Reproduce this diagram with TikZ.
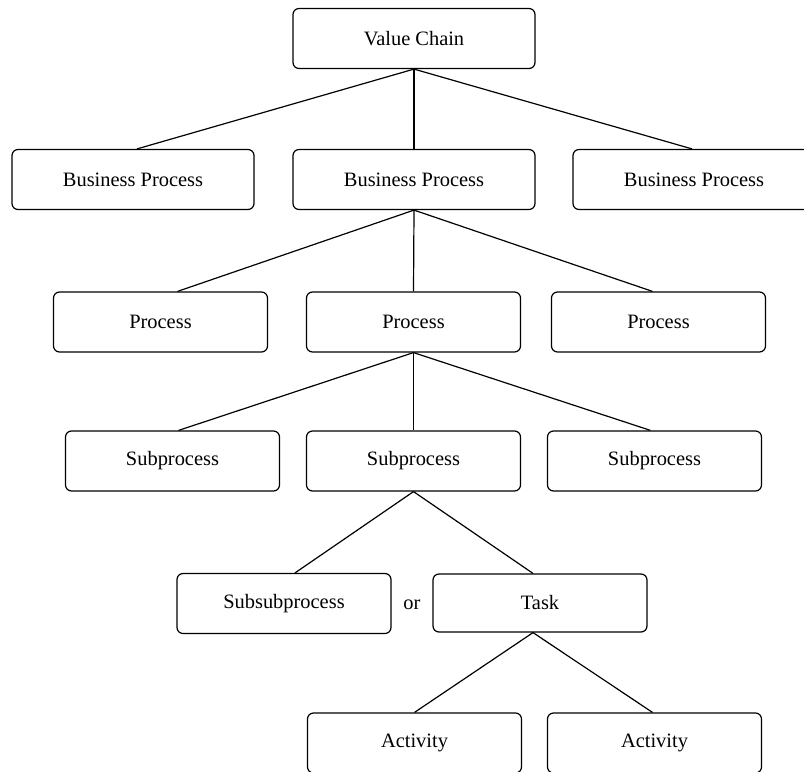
\documentclass[tikz,border=0pt]{standalone}
\usepackage{fontspec}
\setmainfont{Liberation Serif}
\begin{document}
\begin{tikzpicture}[x=1bp,y=-1bp,
  box/.style={draw, line width=1.2bp, rounded corners=6bp, inner sep=0pt,
    minimum height=60bp, font=\fontsize{20.5}{24}\selectfont},
  wide/.style={box, minimum width=242bp},
  narrow/.style={box, minimum width=214bp},
  link/.style={line width=1.2bp}]
\useasboundingbox (0,0) rectangle (804,772);

% level 0
\node[wide] (vc) at (414,38.5) {Value Chain};
% level 1
\node[wide] (bp1) at (133,179.5) {Business Process};
\node[wide] (bp2) at (414,179.5) {Business Process};
\node[wide] (bp3) at (694,179.5) {Business Process};
% level 2
\node[narrow] (p1) at (160.5,322) {Process};
\node[narrow] (p2) at (413.5,322) {Process};
\node[narrow] (p3) at (658.5,322) {Process};
% level 3
\node[narrow] (s1) at (172.5,461) {Subprocess};
\node[narrow] (s2) at (413.5,461) {Subprocess};
\node[narrow] (s3) at (654.5,461) {Subprocess};
% level 4
\node[narrow] (ss) at (284,603.5) {Subsubprocess};
\node[font=\fontsize{20.5}{24}\selectfont] (or) at (412,605) {or};
\node[narrow, minimum height=58bp] (task) at (540,603) {Task};
% level 5
\node[narrow] (a1) at (414.5,743) {Activity};
\node[narrow] (a2) at (654.5,743) {Activity};

% connectors
\draw[link] (vc.south) -- ([xshift=4bp]bp1.north);
\draw[link] (vc.south) -- (bp2.north);
\draw[link] (vc.south) -- ([xshift=-2bp]bp3.north);

\draw[link] (bp2.south) -- ([xshift=17bp]p1.north);
\draw[link] (bp2.south) -- (p2.north);
\draw[link] (bp2.south) -- ([xshift=-6bp]p3.north);

\draw[link] (p2.south) -- ([xshift=6bp]s1.north);
\draw[link] (p2.south) -- (s2.north);
\draw[link] (p2.south) -- ([xshift=-4bp]s3.north);

\draw[link] (s2.south) -- ([xshift=11bp]ss.north);
\draw[link] (s2.south) -- ([xshift=-7bp]task.north);

\draw[link] ([xshift=-7bp]task.south) -- (a1.north);
\draw[link] ([xshift=-7bp]task.south) -- ([xshift=-2bp]a2.north);
\end{tikzpicture}
\end{document}
